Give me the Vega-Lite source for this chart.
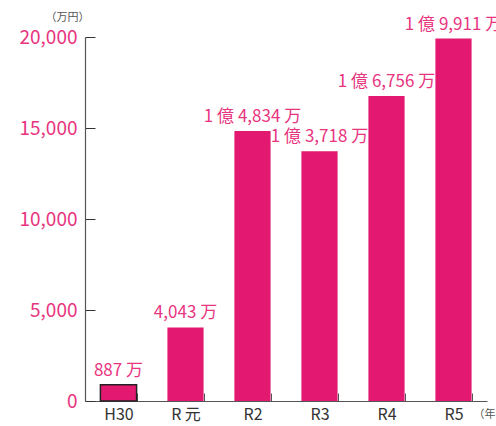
{
  "$schema": "https://vega.github.io/schema/vega-lite/v6.json",
  "width": 402,
  "height": 364,
  "autosize": {"type": "none"},
  "padding": {"left": 85, "top": 37, "right": 9, "bottom": 25},
  "background": "white",
  "config": {"view": {"stroke": null}, "font": "Noto Sans CJK JP"},
  "data": {
    "values": [
      {"year": "H30", "value": 887, "label": "887 万", "outline": "yes"},
      {"year": "R 元", "value": 4043, "label": "4,043 万", "outline": "no"},
      {"year": "R2", "value": 14834, "label": "1 億 4,834 万", "outline": "no"},
      {"year": "R3", "value": 13718, "label": "1 億 3,718 万", "outline": "no"},
      {"year": "R4", "value": 16756, "label": "1 億 6,756 万", "outline": "no"},
      {"year": "R5", "value": 19911, "label": "1 億 9,911 万", "outline": "no"}
    ]
  },
  "encoding": {
    "x": {
      "field": "year", "type": "nominal", "sort": null,
      "scale": {"paddingInner": 0.46, "paddingOuter": 0.23},
      "axis": {
        "title": "（年",
        "titleFontSize": 11, "titleColor": "#555", "titleFontWeight": "normal",
        "titleX": 388, "titleY": 13, "titleAlign": "left", "titleBaseline": "middle",
        "labelAngle": 0, "labelFontSize": 16, "labelColor": "#333", "labelPadding": 13,
        "tickBand": "extent", "tickSize": -8, "tickColor": "#555", "domainColor": "#555",
        "domainWidth": 1.2
      }
    },
    "y": {
      "field": "value", "type": "quantitative",
      "scale": {"domain": [0, 20000], "nice": false},
      "axis": {
        "values": [0, 5000, 10000, 15000, 20000],
        "format": ",.0f",
        "grid": false,
        "title": "（万円）",
        "titleAngle": 0, "titleFontSize": 11, "titleColor": "#555", "titleFontWeight": "normal",
        "titleX": 4, "titleY": -20, "titleAlign": "right", "titleBaseline": "middle",
        "labelFontSize": 19, "labelColor": "#E8357F", "labelPadding": 18,
        "tickSize": -10, "tickColor": "#333", "domainColor": "#555", "domainWidth": 1.2
      }
    }
  },
  "layer": [
    {
      "mark": {"type": "bar", "color": "#E31870"},
      "encoding": {
        "stroke": {"field": "outline", "type": "nominal", "scale": {"domain": ["yes", "no"], "range": ["#222", "#E31870"]}, "legend": null},
        "strokeWidth": {"field": "outline", "type": "nominal", "scale": {"domain": ["yes", "no"], "range": [1.5, 0]}, "legend": null}
      }
    },
    {
      "mark": {"type": "text", "dy": -14, "fontSize": 17, "color": "#E8357F", "baseline": "middle"},
      "encoding": {"text": {"field": "label"}}
    }
  ]
}
